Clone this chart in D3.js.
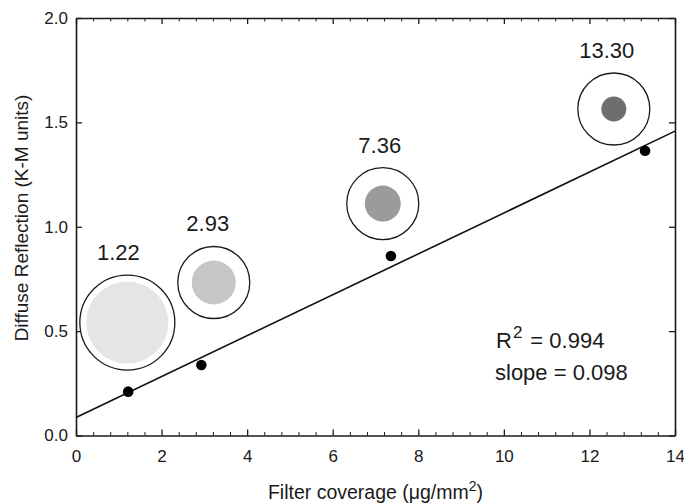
<!DOCTYPE html>
<html lang="en">
<head>
<meta charset="utf-8">
<script src="https://cdn.jsdelivr.net/npm/d3@7"></script>
<style>
  body { margin: 0; background: #fff; }
  svg { display: block; font-family: "Liberation Sans", Arial, sans-serif; }
  .axis path, .axis line { stroke: #1a1a1a; }
  .axis text { fill: #1a1a1a; font-size: 17px; }
</style>
</head>
<body>
<svg width="684" height="504"></svg>
<script>
// measured points (filter coverage vs diffuse reflection)
var coverage = [1.22, 2.93, 7.36, 13.30];
var reflection = [0.21, 0.338, 0.86, 1.364];
var coverageLabels = ["1.22", "2.93", "7.36", "13.30"];

// linear fit
var fitIntercept = 0.086;
var fitSlope = 0.098;
var fitR2 = "0.994";

// tick values
var xTicks = [0, 2, 4, 6, 8, 10, 12, 14];
var yTicks = [0, 0.5, 1.0, 1.5, 2.0];

// filter photos drawn as annotations (centre in data units)
var filterX = [1.20, 3.22, 7.17, 12.57];
var filterY = [0.541, 0.733, 1.111, 1.564];
var filterOuterR = [47.5, 36, 36, 36];
var filterInnerR = [41, 22, 18, 12.5];
var filterShade = ["#e5e5e5", "#c6c6c6", "#9b9b9b", "#6e6e6e"];
var labelDx = [-9, -6, -3, -7];

var svg = d3.select("svg");

var x = d3.scaleLinear().domain([0, 14]).range([76, 675]);
var y = d3.scaleLinear().domain([0, 2]).range([435.5, 18]);

var minorX = d3.range(0, 14.01, 0.4).filter(function (v) {
  return Math.abs(v / 2 - Math.round(v / 2)) > 0.01;
});

// minor ticks (bottom + top)
svg.append("g").attr("class", "axis")
  .attr("transform", "translate(0," + y(0) + ")")
  .call(d3.axisBottom(x).tickValues(minorX).tickSize(-3.5).tickFormat(""))
  .call(function (g) { g.select(".domain").remove(); });
svg.append("g").attr("class", "axis")
  .attr("transform", "translate(0," + y(2) + ")")
  .call(d3.axisTop(x).tickValues(minorX).tickSize(-3.5).tickFormat(""))
  .call(function (g) { g.select(".domain").remove(); });

// major ticks
svg.append("g").attr("class", "axis")
  .attr("transform", "translate(0," + y(0) + ")")
  .call(d3.axisBottom(x).tickValues(xTicks).tickSize(-6).tickSizeOuter(0).tickPadding(14).tickFormat(d3.format("d")))
  .call(function (g) { g.select(".domain").attr("stroke-width", 1.6); g.selectAll("line").attr("stroke-width", 1.3); });
svg.append("g").attr("class", "axis")
  .attr("transform", "translate(0," + y(2) + ")")
  .call(d3.axisTop(x).tickValues(xTicks).tickSize(-6).tickSizeOuter(0).tickFormat(""))
  .call(function (g) { g.select(".domain").attr("stroke-width", 1.6); g.selectAll("line").attr("stroke-width", 1.3); });
svg.append("g").attr("class", "axis")
  .attr("transform", "translate(" + x(0) + ",0)")
  .call(d3.axisLeft(y).tickValues(yTicks).tickSize(-6).tickSizeOuter(0).tickPadding(8).tickFormat(d3.format(".1f")))
  .call(function (g) { g.select(".domain").attr("stroke-width", 1.6); g.selectAll("line").attr("stroke-width", 1.3); });
svg.append("g").attr("class", "axis")
  .attr("transform", "translate(" + x(14) + ",0)")
  .call(d3.axisRight(y).tickValues(yTicks).tickSize(-6).tickSizeOuter(0).tickFormat(""))
  .call(function (g) { g.select(".domain").attr("stroke-width", 1.6); g.selectAll("line").attr("stroke-width", 1.3); });

// axis titles
svg.append("text")
  .attr("x", (x(0) + x(14)) / 2).attr("y", 499)
  .attr("text-anchor", "middle").attr("font-size", 19.5).attr("fill", "#1a1a1a")
  .text("Filter coverage (\u03bcg/mm")
  .append("tspan").attr("font-size", 14).attr("dy", -8).text("2")
  .select(function () { return this.parentNode; })
  .append("tspan").attr("dy", 8).text(")");

svg.append("text")
  .attr("transform", "translate(28," + 218 + ") rotate(-90)")
  .attr("text-anchor", "middle").attr("font-size", 19).attr("fill", "#1a1a1a")
  .text("Diffuse Reflection (K-M units)");

// filter photos
var filters = svg.append("g");
coverage.forEach(function (c, i) {
  var cx = x(filterX[i]), cy = y(filterY[i]);
  filters.append("circle").attr("cx", cx).attr("cy", cy).attr("r", filterOuterR[i])
    .attr("fill", "#fff").attr("stroke", "#1a1a1a").attr("stroke-width", 1.3);
  filters.append("circle").attr("cx", cx).attr("cy", cy).attr("r", filterInnerR[i])
    .attr("fill", filterShade[i]);
  filters.append("text")
    .attr("x", cx + labelDx[i]).attr("y", cy - filterOuterR[i] - 15)
    .attr("text-anchor", "middle").attr("font-size", 22).attr("fill", "#1a1a1a")
    .text(coverageLabels[i]);
});

// regression line
svg.append("line")
  .attr("x1", x(0)).attr("y1", y(fitIntercept))
  .attr("x2", x(14)).attr("y2", y(fitIntercept + fitSlope * 14))
  .attr("stroke", "#111").attr("stroke-width", 1.6);

// points
svg.selectAll(".pt")
  .data(coverage)
  .enter().append("circle")
  .attr("class", "pt")
  .attr("cx", function (d) { return x(d); })
  .attr("cy", function (d, i) { return y(reflection[i]); })
  .attr("r", 5.3)
  .attr("fill", "#000");

// fit statistics
var stats = svg.append("text").attr("x", 496).attr("y", 348)
  .attr("font-size", 22).attr("fill", "#1a1a1a");
stats.append("tspan").text("R");
stats.append("tspan").attr("font-size", 17).attr("dy", -10).attr("dx", 1).text("2");
stats.append("tspan").attr("dy", 10).attr("dx", 8).text("= " + fitR2);

svg.append("text").attr("x", 495).attr("y", 380)
  .attr("font-size", 22).attr("fill", "#1a1a1a")
  .text("slope = " + d3.format(".3f")(fitSlope));
</script>
</body>
</html>
